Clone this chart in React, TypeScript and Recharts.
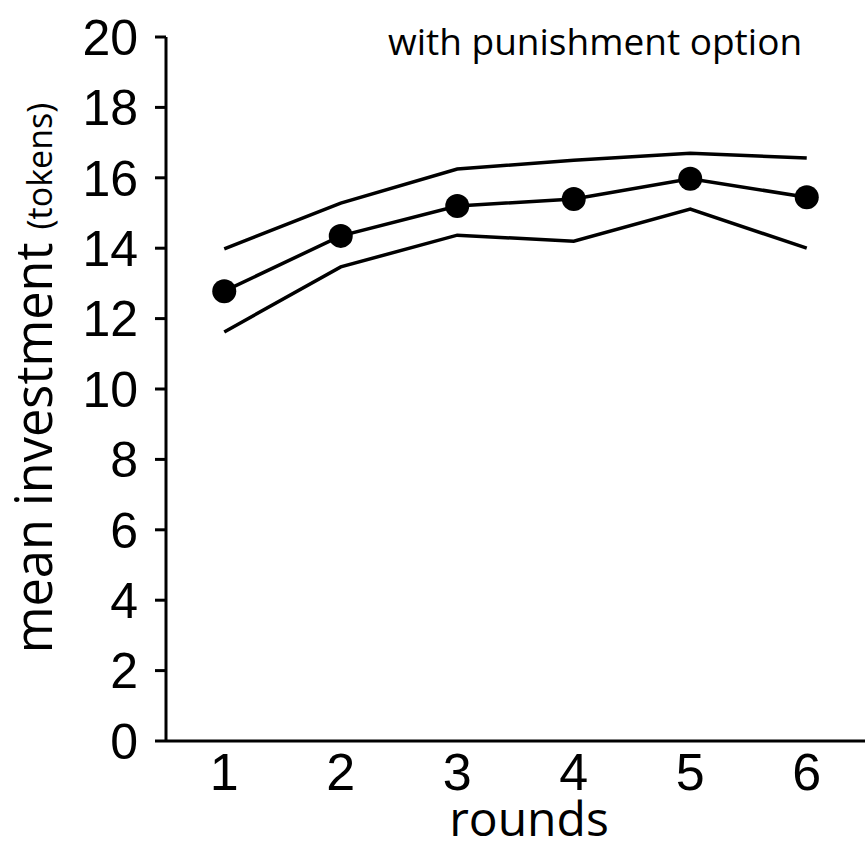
import { LineChart, Line, XAxis, YAxis, Label } from 'recharts';

const ROUNDS = [1, 2, 3, 4, 5, 6];
const MEAN = [12.78, 14.35, 15.2, 15.4, 15.97, 15.45];
const UPPER = [13.98, 15.28, 16.25, 16.5, 16.7, 16.56];
const LOWER = [11.62, 13.47, 14.37, 14.2, 15.11, 14.0];
const Y_TICKS = [0, 2, 4, 6, 8, 10, 12, 14, 16, 18, 20];

const data = ROUNDS.map((r, i) => ({ round: r, mean: MEAN[i], upper: UPPER[i], lower: LOWER[i] }));

const TICK_FONT = '"Liberation Sans", Arial, sans-serif';
const TEXT_FONT = '"Open Sans", "Noto Sans", sans-serif';

function YLabel() {
    return (
        <text
            x={0}
            y={0}
            transform="translate(52, 378) rotate(-90)"
            textAnchor="middle"
            fontFamily={TEXT_FONT}
            fill="#000"
        >
            <tspan fontSize={50.5}>mean investment </tspan>
            <tspan fontSize={34}>(tokens)</tspan>
        </text>
    );
}

function XLabel() {
    return (
        <text x={529} y={836} textAnchor="middle" fontFamily={TEXT_FONT} fontSize={48} fill="#000">
            rounds
        </text>
    );
}

export default function App() {
    return (
        <div style={{ position: 'absolute', left: 0, top: 0, width: 865, height: 842, background: '#fff' }}>
            <div
                style={{
                    position: 'absolute',
                    left: 388,
                    top: 21,
                    fontFamily: TEXT_FONT,
                    fontSize: 37,
                    lineHeight: '40px',
                    color: '#000',
                    whiteSpace: 'nowrap',
                }}
            >
                with punishment option
            </div>
            <LineChart width={865} height={842} data={data} margin={{ top: 37, right: 0, left: 0, bottom: 0 }}>
                <XAxis
                    dataKey="round"
                    type="number"
                    domain={[0.5, 6.5]}
                    ticks={ROUNDS}
                    height={101}
                    axisLine={{ stroke: '#000', strokeWidth: 3 }}
                    tickLine={false}
                    tickSize={0}
                    tickMargin={12}
                    tick={{ fill: '#000', fontSize: 52, fontFamily: TICK_FONT }}
                >
                    <Label content={<XLabel />} />
                </XAxis>
                <YAxis
                    domain={[0, 20]}
                    ticks={Y_TICKS}
                    width={166}
                    axisLine={{ stroke: '#000', strokeWidth: 3 }}
                    tickLine={{ stroke: '#000', strokeWidth: 3 }}
                    tickSize={11}
                    tickMargin={17}
                    tick={{ fill: '#000', fontSize: 50, fontFamily: TICK_FONT }}
                >
                    <Label content={<YLabel />} />
                </YAxis>
                <Line dataKey="upper" stroke="#000" strokeWidth={3.5} dot={false} isAnimationActive={false} />
                <Line dataKey="lower" stroke="#000" strokeWidth={3.5} dot={false} isAnimationActive={false} />
                <Line
                    dataKey="mean"
                    stroke="#000"
                    strokeWidth={3.5}
                    dot={{ r: 12, fill: '#000', stroke: '#000', strokeWidth: 0 }}
                    activeDot={false}
                    isAnimationActive={false}
                />
            </LineChart>
        </div>
    );
}
